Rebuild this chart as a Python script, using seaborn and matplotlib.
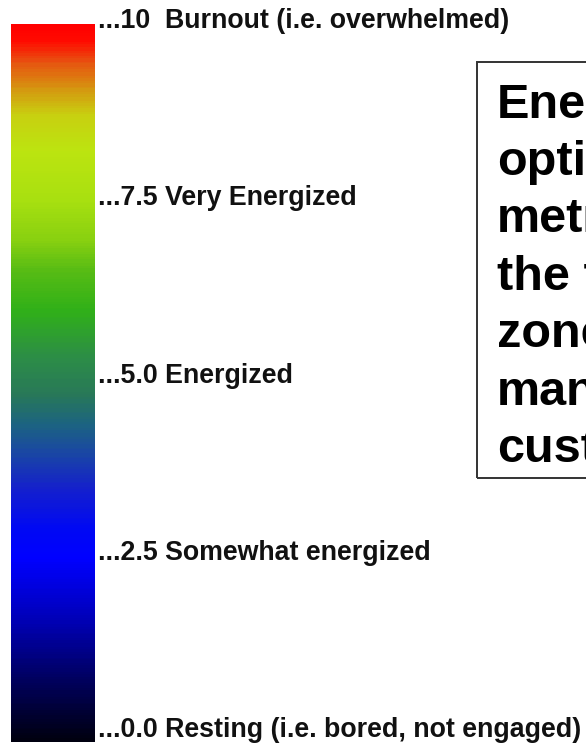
import numpy as np
import seaborn as sns
import matplotlib.pyplot as plt
from matplotlib.colors import LinearSegmentedColormap
from matplotlib.patches import Rectangle

# colour stops of the energy scale (value on the 0-10 scale, colour)
stop_values = [-0.17, 0.71, 1.55, 2.40, 2.82, 3.39, 3.95, 4.31, 4.73, 5.23,
               5.93, 6.50, 6.92, 7.49, 8.19, 8.69, 9.04, 9.46, 9.75, 9.96]
stop_colors = ["#000010", "#000060", "#0000b8", "#0000ff", "#0008f4", "#1420cc",
               "#1a4aa0", "#1c6480", "#287858", "#2c8c48", "#30b018", "#58bc14",
               "#88d010", "#a8e010", "#bce410", "#c8d010", "#d49a10", "#e85010",
               "#ff0a00", "#ff0000"]

tick_values = [10, 7.5, 5.0, 2.5, 0.0]
tick_labels = ["...10  Burnout (i.e. overwhelmed)",
               "...7.5 Very Energized",
               "...5.0 Energized",
               "...2.5 Somewhat energized",
               "...0.0 Resting (i.e. bored, not engaged)"]

# the note box runs off the right edge of the picture
box_lines = ["Energy", "optimal", "metric", "the flow", "zone", "many", "customers"]

W, H = 586, 744
sns.set_theme(style="white")
plt.rcParams["font.family"] = ["Liberation Sans", "DejaVu Sans"]

fig = plt.figure(figsize=(W / 100, H / 100), dpi=100)
fig.patch.set_facecolor("white")

# value scale over the whole figure height: 0 sits at 730 px, 10 at 21 px
px_per_unit = (730 - 21) / 10
y_lo = -(H - 730) / px_per_unit
y_hi = 10 + 21 / px_per_unit

# gradient bar
bar_lo, bar_hi = stop_values[0], stop_values[-1]
bar_bottom = (bar_lo - y_lo) / (y_hi - y_lo)
bar_top = (bar_hi - y_lo) / (y_hi - y_lo)
ax_bar = fig.add_axes([11 / W, bar_bottom, 84 / W, bar_top - bar_bottom])
pos = [(v - bar_lo) / (bar_hi - bar_lo) for v in stop_values]
cmap = LinearSegmentedColormap.from_list("energy", list(zip(pos, stop_colors)))
grad = np.linspace(bar_hi, bar_lo, 400)[:, None]
sns.heatmap(grad, ax=ax_bar, cmap=cmap, vmin=bar_lo, vmax=bar_hi, cbar=False,
            xticklabels=False, yticklabels=False)
ax_bar.set_axis_off()

# labels on the value scale
ax = fig.add_axes([0, 0, 1, 1], facecolor="none")
ax.set_xlim(0, W)
ax.set_ylim(y_lo, y_hi)
ax.set_axis_off()
for v, lab in zip(tick_values, tick_labels):
    ax.text(98, v, lab, ha="left", va="center", fontsize=19.3, fontweight="bold",
            color="#111111")

# text box
fig.patches.append(Rectangle((477 / W, 1 - 478 / H), 200 / W, (478 - 62) / H,
                             transform=fig.transFigure, fill=False,
                             edgecolor="#333333", linewidth=1.4))
for i, line in enumerate(box_lines):
    fig.text(497 / W, 1 - (105 + i * 57.5) / H, line, ha="left", va="center",
             fontsize=35, fontweight="bold", color="black")

fig.savefig("out.png", dpi=100)
